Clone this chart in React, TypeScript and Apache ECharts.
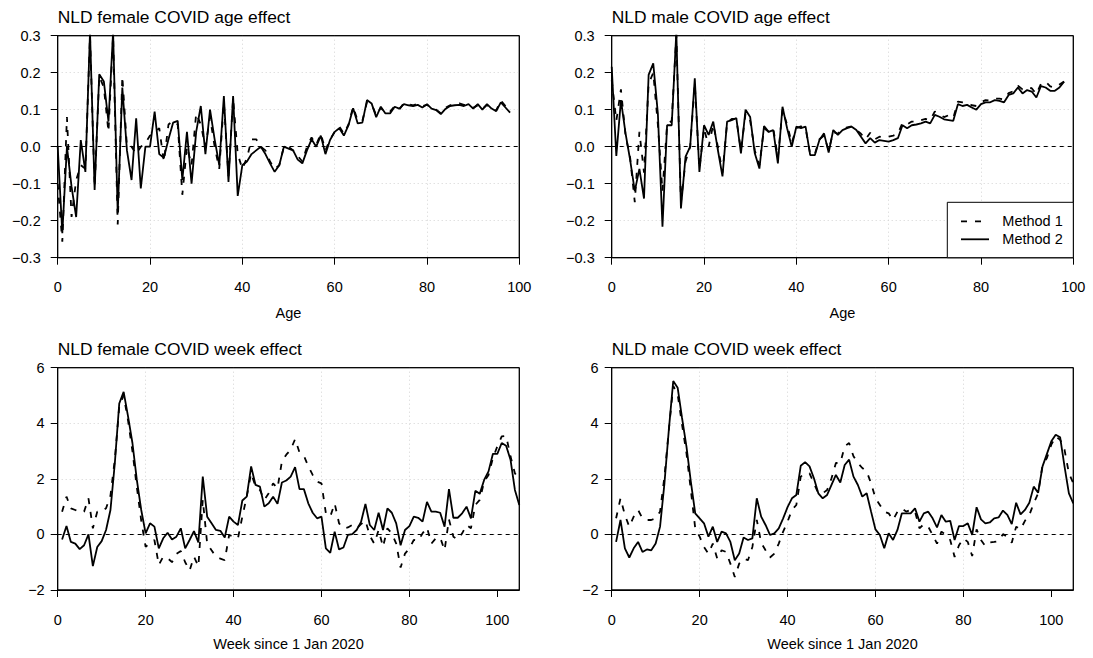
import React, { useEffect, useRef } from "react";
import * as echarts from "echarts";

// ---------- data ----------
const ages: number[] = Array.from({ length: 99 }, (_, i) => i);
const weeks: number[] = Array.from({ length: 105 }, (_, i) => i + 1);

const femaleAgeMethod1 = [
  -0.1, -0.257, 0.08, -0.19, -0.09, -0.05, -0.06, 0.3, -0.11, 0.19,
  0.16, 0.04, 0.3, -0.21, 0.19, 0.0, 0.0, -0.02, 0.0, 0.01,
  0.03, 0.04, 0.05, -0.04, 0.06, 0.07, 0.06, -0.13, 0.0, -0.05,
  0.09, 0.06, 0.0, 0.08, 0.0, -0.06, 0.12, -0.08, 0.13, -0.02,
  -0.06, -0.03, 0.02, 0.02, 0.0, -0.01, -0.04, -0.06, -0.05, 0.0,
  0.0, -0.01, -0.025, -0.04, 0.0, 0.025, 0.005, 0.035, -0.01, 0.02,
  0.04, 0.055, 0.035, 0.06, 0.108, 0.07, 0.07, 0.12, 0.115, 0.085,
  0.105, 0.092, 0.095, 0.11, 0.1, 0.118, 0.115, 0.112, 0.116, 0.11,
  0.113, 0.105, 0.1, 0.09, 0.105, 0.112, 0.115, 0.117, 0.113, 0.112,
  0.105, 0.112, 0.102, 0.113, 0.1, 0.098, 0.125, 0.11, 0.095,
];
const femaleAgeMethod2 = [
  0.0, -0.234, 0.0, -0.108, -0.19, 0.018, -0.068, 0.31, -0.117, 0.196,
  0.176, 0.068, 0.31, -0.18, 0.16, -0.01, -0.09, 0.077, -0.113, 0.0,
  0.0, 0.095, -0.02, -0.03, 0.02, 0.065, 0.07, -0.09, 0.04, -0.1,
  0.04, 0.11, -0.02, 0.1, 0.02, -0.05, 0.137, -0.095, 0.137, -0.133,
  -0.05, -0.04, -0.02, -0.01, 0.0, -0.02, -0.045, -0.068, -0.05, 0.0,
  -0.005, -0.01, -0.035, -0.045, -0.01, 0.02, 0.0, 0.03, -0.02, 0.018,
  0.04, 0.05, 0.03, 0.058, 0.104, 0.063, 0.065, 0.126, 0.117, 0.08,
  0.108, 0.09, 0.09, 0.108, 0.103, 0.115, 0.112, 0.11, 0.113, 0.106,
  0.115, 0.103, 0.099, 0.088, 0.102, 0.11, 0.112, 0.113, 0.11, 0.115,
  0.103, 0.115, 0.1, 0.115, 0.103, 0.096, 0.12, 0.106, 0.092,
];
const maleAgeMethod1 = [
  0.18, 0.07, 0.155, 0.03, -0.03, -0.15, 0.04, -0.07, 0.17, 0.2,
  0.06, -0.12, 0.06, 0.07, 0.3, -0.15, -0.04, 0.0, 0.17, -0.06,
  0.05, 0.0, 0.06, 0.0, -0.07, 0.065, 0.075, 0.075, -0.01, 0.09,
  0.07, -0.01, -0.05, 0.05, 0.04, 0.05, -0.03, 0.1, 0.06, 0.01,
  0.05, 0.055, 0.05, -0.02, -0.02, 0.02, 0.03, -0.01, 0.04, 0.035,
  0.048, 0.052, 0.055, 0.045, 0.035, 0.02, 0.038, 0.02, 0.027, 0.025,
  0.027, 0.03, 0.035, 0.065, 0.06, 0.068, 0.067, 0.072, 0.075, 0.072,
  0.095, 0.088, 0.08, 0.085, 0.078, 0.122, 0.12, 0.118, 0.112, 0.11,
  0.12, 0.126, 0.125, 0.13, 0.13, 0.128, 0.145, 0.15, 0.165, 0.155,
  0.16, 0.158, 0.142, 0.17, 0.176, 0.163, 0.16, 0.168, 0.176,
];
const maleAgeMethod2 = [
  0.216, -0.025, 0.126, 0.036, -0.036, -0.12, -0.06, -0.14, 0.194, 0.225,
  0.09, -0.216, 0.058, 0.058, 0.31, -0.167, -0.027, 0.0, 0.185, -0.068,
  0.058, 0.032, 0.068, -0.009, -0.08, 0.068, 0.072, 0.077, -0.018, 0.1,
  0.08, -0.018, -0.059, 0.056, 0.04, 0.045, -0.045, 0.108, 0.05, 0.0,
  0.054, 0.05, 0.054, -0.023, -0.023, 0.018, 0.036, -0.016, 0.045, 0.032,
  0.045, 0.05, 0.054, 0.045, 0.027, 0.009, 0.023, 0.011, 0.018, 0.016,
  0.014, 0.018, 0.023, 0.058, 0.05, 0.058, 0.06, 0.063, 0.068, 0.063,
  0.086, 0.081, 0.074, 0.072, 0.07, 0.115, 0.11, 0.113, 0.106, 0.1,
  0.115, 0.12, 0.12, 0.126, 0.124, 0.12, 0.14, 0.144, 0.16, 0.144,
  0.153, 0.149, 0.133, 0.164, 0.16, 0.151, 0.151, 0.16, 0.176,
];

const femaleWeekMethod1 = [
  0.82, 1.36, 0.94, 0.88, 0.8, 0.82, 1.3, 0.22, 0.82, 0.82,
  0.94, 1.4, 2.7, 4.6, 5.0, 4.1, 3.0, 1.7, 0.5, -0.45,
  -0.3, -0.2, -1.1, -0.8, -0.85, -1.0, -0.7, -0.6, -1.0, -1.3,
  -0.8, -1.15, 1.25, -0.33, -0.57, -0.8, -0.87, -0.93, -0.02, -0.08,
  -0.14, 0.64, 1.36, 2.2, 1.72, 1.6, 1.24, 1.48, 1.84, 1.66,
  2.63, 2.87, 3.05, 3.43, 2.95, 2.83, 2.45, 2.14, 1.9, 1.84,
  0.76, 0.64, 1.12, 0.4, 0.22, 0.25, 0.34, 0.22, 0.37, 0.5,
  -0.05, -0.33, 0.16, -0.45, 0.22, 0.04, -0.33, -1.19, -0.69, -0.5,
  -0.2, -0.23, 0.04, 0.25, -0.33, -0.14, -0.11, -0.57, 0.54, -0.08,
  -0.18, 0.04, 0.34, 0.22, 1.06, 1.24, 1.9, 2.14, 2.75, 3.17,
  3.53, 3.55, 2.81, 2.2, 1.96,
];
const femaleWeekMethod2 = [
  -0.18, 0.3, -0.27, -0.33, -0.53, -0.39, 0.0, -1.14, -0.45, -0.24,
  0.16, 0.88, 2.57, 4.71, 5.13, 4.25, 3.29, 1.96, 0.88, 0.04,
  0.4, 0.28, -0.5, -0.14, 0.06, -0.18, -0.08, 0.22, -0.5, -0.2,
  0.12, -0.29, 2.08, 0.64, 0.4, 0.16, 0.13, -0.11, 0.64, 0.46,
  0.34, 1.22, 1.36, 2.45, 1.78, 1.72, 1.0, 1.12, 1.36, 1.1,
  1.87, 1.94, 2.08, 2.42, 1.63, 1.63, 1.12, 0.78, 0.58, 0.64,
  -0.5, -0.66, 0.1, -0.54, -0.47, -0.02, 0.01, 0.16, 0.45, 1.1,
  0.34, 0.16, 0.78, 0.16, 0.94, 0.78, 0.4, -0.39, 0.16, 0.3,
  0.64, 0.6, 0.46, 1.17, 0.82, 0.82, 0.78, 0.28, 1.63, 0.6,
  0.6, 0.76, 1.0, 0.58, 1.57, 1.46, 1.96, 2.27, 2.9, 2.9,
  3.29, 3.19, 2.69, 1.6, 1.06,
];
const maleWeekMethod1 = [
  0.58, 1.3, 0.7, 0.28, 0.64, 0.88, 0.58, 0.52, 0.52, 0.58,
  0.82, 2.08, 3.77, 5.34, 5.04, 3.95, 2.93, 1.6, 0.22, -0.08,
  -0.45, -0.69, -0.33, -0.87, -0.57, -0.63, -1.05, -1.53, -1.05, -0.87,
  -0.93, -0.45, 0.52, -0.3, -0.57, -0.83, -0.69, -0.33, 0.1, 0.46,
  0.88, 1.06, 2.08, 2.2, 2.2, 1.84, 1.48, 1.48, 1.6, 2.02,
  2.57, 2.57, 3.17, 3.29, 2.81, 2.57, 2.39, 2.27, 1.84, 1.3,
  1.06, 0.82, 0.76, 0.52, 0.82, 0.94, 0.82, 0.88, 0.82, 0.22,
  0.37, 0.28, -0.02, -0.33, 0.1, -0.02, -0.2, -0.81, -0.39, -0.14,
  -0.27, -0.78, 0.18, -0.2, -0.42, -0.29, -0.27, -0.24, 0.01, -0.08,
  -0.3, 0.28, 0.18, 0.49, 0.7, 1.12, 1.48, 2.5, 2.75, 3.23,
  3.53, 3.41, 3.05, 2.2, 1.84,
];
const maleWeekMethod2 = [
  -0.27, 0.52, -0.5, -0.83, -0.5, -0.27, -0.63, -0.54, -0.57, -0.33,
  0.28, 1.84, 3.77, 5.52, 5.28, 4.19, 3.17, 1.9, 0.76, 0.58,
  0.4, -0.08, 0.28, -0.27, 0.1, 0.04, -0.27, -0.93, -0.69, -0.11,
  -0.2, -0.14, 1.3, 0.64, 0.34, -0.02, 0.04, 0.22, 0.58, 0.98,
  1.3, 1.42, 2.47, 2.6, 2.45, 2.02, 1.48, 1.3, 1.42, 1.78,
  2.14, 1.87, 2.5, 2.69, 2.08, 1.78, 1.36, 1.48, 0.82, 0.18,
  -0.02, -0.5, 0.04, -0.2, 0.16, 0.76, 0.76, 0.76, 0.94, 0.46,
  0.76, 0.82, 0.58, 0.25, 0.7, 0.46, 0.49, -0.2, 0.3, 0.3,
  0.4, -0.02, 0.98, 0.54, 0.4, 0.43, 0.58, 0.61, 0.86, 0.7,
  0.37, 1.14, 0.72, 0.88, 1.14, 1.72, 1.5, 2.45, 2.9, 3.35,
  3.59, 3.5, 2.45, 1.48, 1.12,
];

const xTicks = [0, 20, 40, 60, 80, 100];
const titles = [
  "NLD female COVID age effect",
  "NLD male COVID age effect",
  "NLD female COVID week effect",
  "NLD male COVID week effect",
];
const xNames = ["Age", "Age", "Week since 1 Jan 2020", "Week since 1 Jan 2020"];
const legendNames = ["Method 1", "Method 2"];

// ---------- layout ----------
const FONT = "'Liberation Sans', Arial, Helvetica, sans-serif";
const FS = 14.5;
const grids = [
  { left: 57.7, top: 35.7, width: 461.6, height: 222 },
  { left: 611.7, top: 35.7, width: 461.6, height: 222 },
  { left: 57.7, top: 367.7, width: 461.6, height: 222.3 },
  { left: 611.7, top: 367.7, width: 461.6, height: 222.3 },
];

const fmtAge = (v: number) => {
  const s = Math.abs(v).toFixed(1);
  return v < -1e-9 ? "\u2212" + s : s;
};
const fmtWeek = (v: number) => {
  const r = Math.round(v);
  return r < 0 ? "\u2212" + Math.abs(r) : String(r);
};

const gridLineStyle = { color: "#d3d3d3", type: [1, 3], width: 1 };

function xAxisCfg(gi: number, max: number) {
  return {
    type: "value",
    gridIndex: gi,
    min: 0,
    max,
    interval: 20,
    axisLine: { show: true, onZero: false, lineStyle: { color: "#000", width: 1 } },
    axisTick: { show: true, inside: false, length: 7, lineStyle: { color: "#000", width: 1 }, customValues: xTicks },
    axisLabel: {
      show: true,
      margin: 22,
      color: "#000",
      fontSize: FS,
      fontFamily: FONT,
      customValues: xTicks,
      formatter: (v: number) => String(v),
    },
    splitLine: { show: true, showMinLine: false, showMaxLine: false, lineStyle: gridLineStyle },
  };
}

function yAxisCfg(gi: number, min: number, max: number, interval: number, fmt: (v: number) => string, margin: number) {
  return {
    type: "value",
    gridIndex: gi,
    min,
    max,
    interval,
    axisLine: { show: true, onZero: false, lineStyle: { color: "#000", width: 1 } },
    axisTick: { show: true, inside: false, length: 7, lineStyle: { color: "#000", width: 1 } },
    axisLabel: { show: true, margin, color: "#000", fontSize: FS, fontFamily: FONT, formatter: fmt },
    splitLine: { show: true, showMinLine: false, showMaxLine: false, lineStyle: gridLineStyle },
  };
}

const zeroLine = {
  silent: true,
  symbol: "none",
  label: { show: false },
  emphasis: { disabled: true },
  lineStyle: { color: "#000", type: [4, 4], width: 1 },
  data: [{ yAxis: 0 }],
};

function pairs(xs: number[], ys: number[]) {
  return xs.map((x, i) => [x, ys[i]]);
}

function seriesPair(gi: number, xs: number[], m1: number[], m2: number[]) {
  return [
    {
      name: legendNames[0],
      type: "line",
      xAxisIndex: gi,
      yAxisIndex: gi,
      data: pairs(xs, m1),
      symbol: "none",
      clip: true,
      lineStyle: { color: "#000", width: 1.8, type: [6, 8] },
      markLine: zeroLine,
      z: 3,
    },
    {
      name: legendNames[1],
      type: "line",
      xAxisIndex: gi,
      yAxisIndex: gi,
      data: pairs(xs, m2),
      symbol: "none",
      clip: true,
      lineStyle: { color: "#000", width: 1.8, type: "solid" },
      z: 4,
    },
  ];
}

function textEl(text: string, x: number, y: number, size: number, align: string) {
  return {
    type: "text",
    x,
    y,
    silent: true,
    z: 100,
    style: {
      text,
      fontSize: size,
      fontFamily: FONT,
      fill: "#000",
      align,
      textAlign: align,
      verticalAlign: "middle",
      textVerticalAlign: "middle",
    },
  };
}

function buildOption() {
  const graphic: any[] = [];
  grids.forEach((g, i) => {
    graphic.push(textEl(titles[i], g.left, 17.3 + (i >= 2 ? 331.6 : 0), 17.4, "left"));
    graphic.push(textEl(xNames[i], g.left + g.width / 2, i >= 2 ? 643.5 : 313, FS, "center"));
    // plot box drawn on top of the grid lines
    graphic.push({
      type: "rect",
      z: 99,
      silent: true,
      shape: { x: g.left, y: g.top, width: g.width, height: g.height },
      style: { fill: "none", stroke: "#000", lineWidth: 1 },
    });
  });
  // legend (top-right panel)
  const lx = 947.3, ly = 202.3, lw = 1073.3 - 947.3, lh = 257.7 - 202.3;
  graphic.push({
    type: "rect",
    z: 100,
    silent: true,
    shape: { x: lx, y: ly, width: lw, height: lh },
    style: { fill: "#fff", stroke: "#000", lineWidth: 1 },
  });
  graphic.push({
    type: "line",
    z: 101,
    silent: true,
    shape: { x1: 961, y1: 221.3, x2: 989, y2: 221.3 },
    style: { stroke: "#000", lineWidth: 1.8, lineDash: [6, 8] },
  });
  graphic.push({
    type: "line",
    z: 101,
    silent: true,
    shape: { x1: 961, y1: 239.3, x2: 989, y2: 239.3 },
    style: { stroke: "#000", lineWidth: 1.8 },
  });
  graphic.push(textEl(legendNames[0], 1002.3, 221.3, FS, "left"));
  graphic.push(textEl(legendNames[1], 1002.3, 239.3, FS, "left"));

  return {
    animation: false,
    backgroundColor: "#fff",
    textStyle: { fontFamily: FONT },
    grid: grids.map((g) => ({
      ...g,
      show: true,
      borderColor: "#000",
      borderWidth: 1,
      backgroundColor: "transparent",
      containLabel: false,
    })),
    xAxis: [xAxisCfg(0, 100), xAxisCfg(1, 100), xAxisCfg(2, 105), xAxisCfg(3, 105)],
    yAxis: [
      yAxisCfg(0, -0.3, 0.3, 0.1, fmtAge, 17),
      yAxisCfg(1, -0.3, 0.3, 0.1, fmtAge, 17),
      yAxisCfg(2, -2, 6, 2, fmtWeek, 13),
      yAxisCfg(3, -2, 6, 2, fmtWeek, 13),
    ],
    series: [
      ...seriesPair(0, ages, femaleAgeMethod1, femaleAgeMethod2),
      ...seriesPair(1, ages, maleAgeMethod1, maleAgeMethod2),
      ...seriesPair(2, weeks, femaleWeekMethod1, femaleWeekMethod2),
      ...seriesPair(3, weeks, maleWeekMethod1, maleWeekMethod2),
    ],
    graphic,
  };
}

export default function App() {
  const ref = useRef<HTMLDivElement>(null);
  useEffect(() => {
    if (!ref.current) return;
    const chart = echarts.init(ref.current, null, { renderer: "svg" });
    chart.setOption(buildOption() as any);
    return () => chart.dispose();
  }, []);
  return (
    <div
      ref={ref}
      style={{ position: "fixed", left: 0, top: 0, width: 1093, height: 658, background: "#fff" }}
    />
  );
}
